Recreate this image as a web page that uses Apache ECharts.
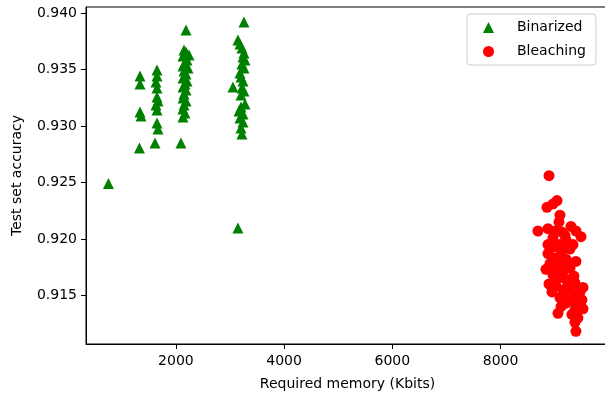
<!DOCTYPE html>
<html>
<head>
<meta charset="utf-8">
<script src="https://cdn.jsdelivr.net/npm/echarts@6/dist/echarts.min.js"></script>
<style>
  html, body { margin: 0; padding: 0; background: #fff; }
  #chart { width: 605px; height: 397px; }
</style>
</head>
<body>
<div id="chart"></div>
<script>
// x ticks / y ticks
var xTicks = [2000, 4000, 6000, 8000];
var yTicks = [0.915, 0.920, 0.925, 0.930, 0.935, 0.940];

// Binarized: [memory Kbits, accuracy]
var binarized = [
  [754, 0.9249],
  [1337, 0.93444], [1337, 0.93373], [1337, 0.93125], [1356, 0.93090], [1327, 0.92806],
  [1651, 0.93497], [1651, 0.93444], [1633, 0.93391], [1651, 0.93338], [1651, 0.93258],
  [1670, 0.93223], [1633, 0.93187], [1651, 0.93143], [1651, 0.93028], [1670, 0.92974],
  [1614, 0.92850],
  [2187, 0.93852], [2150, 0.93675], [2187, 0.93657], [2131, 0.93621], [2205, 0.93586],
  [2168, 0.93559], [2131, 0.93533], [2224, 0.93515], [2150, 0.93489], [2187, 0.93462],
  [2131, 0.93426], [2205, 0.93400], [2168, 0.93373], [2131, 0.93347], [2187, 0.93320],
  [2150, 0.93285], [2131, 0.93249], [2187, 0.93223], [2150, 0.93187], [2131, 0.93152],
  [2168, 0.93116], [2131, 0.93081], [2094, 0.92850], [2242, 0.93630],
  [3258, 0.93923], [3147, 0.93763], [3184, 0.93728], [3221, 0.93692], [3258, 0.93648],
  [3240, 0.93613], [3277, 0.93586], [3221, 0.93551], [3258, 0.93515], [3184, 0.93471],
  [3203, 0.93435], [3240, 0.93400], [3055, 0.93347], [3221, 0.93338], [3258, 0.93311],
  [3203, 0.93276], [3277, 0.93196], [3203, 0.93169], [3166, 0.93134], [3240, 0.93107],
  [3184, 0.93072], [3240, 0.93037], [3203, 0.92983], [3221, 0.92930], [3147, 0.92097]
];

// Bleaching: [memory Kbits, accuracy]
var bleaching = [
  [8895, 0.9256], [9043, 0.9234], [8969, 0.9231], [8858, 0.9228], [9098, 0.9221],
  [9080, 0.9215], [8691, 0.9207], [8876, 0.9209], [9301, 0.9211], [9393, 0.9207],
  [9486, 0.9202], [9135, 0.9206], [8969, 0.9201], [9209, 0.9199], [9338, 0.9195],
  [8876, 0.9195], [9043, 0.9193], [9283, 0.9191], [8876, 0.9187], [9117, 0.9187],
  [8987, 0.9183], [9209, 0.9182], [9393, 0.9180], [8913, 0.9178], [9080, 0.9176],
  [9283, 0.9174], [8839, 0.9173], [9154, 0.9171], [8969, 0.9168], [9356, 0.9167],
  [9061, 0.9165], [9227, 0.9163], [8895, 0.9160], [9024, 0.9158], [9301, 0.9158],
  [9523, 0.9157], [9154, 0.9155], [8950, 0.9153], [9246, 0.9151], [9393, 0.9150],
  [9098, 0.9148], [9504, 0.9146], [9301, 0.9145], [9209, 0.9143], [9430, 0.9141],
  [9117, 0.9140], [9523, 0.9138], [9375, 0.9137], [9061, 0.9134], [9319, 0.9133],
  [9430, 0.9130], [9375, 0.9126], [9393, 0.9118],
  [9024, 0.9180], [9135, 0.9167], [9246, 0.9179], [8987, 0.9174], [9190, 0.9152],
  [9283, 0.9164], [9098, 0.9195], [9190, 0.9203], [9006, 0.9207], [9375, 0.9161],
  [9467, 0.9153], [9338, 0.9148], [9172, 0.9194], [8932, 0.9192]
];

var font = 'DejaVu Sans';
var chart = echarts.init(document.getElementById('chart'), null, { renderer: 'canvas' });

var option = {
  animation: false,
  backgroundColor: '#fff',
  textStyle: { fontFamily: font },
  grid: {
    left: 86, top: 7, width: 523, height: 337,
    outerBoundsMode: 'none',
    containLabel: false,
    show: true, borderColor: '#000', borderWidth: 1
  },
  legend: {
    orient: 'vertical',
    left: 467, top: 14,
    padding: [5, 10, 5, 16],
    itemGap: 7,
    itemWidth: 11, itemHeight: 11,
    borderColor: '#cccccc', borderWidth: 1, borderRadius: 3,
    backgroundColor: '#fff',
    textStyle: { fontFamily: font, fontSize: 14, color: '#000', padding: [0, 0, 0, 18], lineHeight: 17 },
    data: ['Binarized', 'Bleaching']
  },
  xAxis: {
    type: 'value',
    min: 339, max: 10004,
    name: 'Required memory (Kbits)',
    nameLocation: 'middle',
    nameGap: 33,
    nameTextStyle: { fontFamily: font, fontSize: 14, color: '#000' },
    splitLine: { show: false },
    axisLine: { lineStyle: { color: '#000', width: 1 } },
    axisTick: { show: true, length: 5, lineStyle: { color: '#000' }, customValues: xTicks },
    axisLabel: {
      fontFamily: font, fontSize: 14, color: '#000', margin: 10, customValues: xTicks,
      formatter: function (v) { return String(v); }
    }
  },
  yAxis: {
    type: 'value',
    min: 0.91068, max: 0.94056,
    name: 'Test set accuracy',
    nameLocation: 'middle',
    nameGap: 62,
    nameTextStyle: { fontFamily: font, fontSize: 14, color: '#000' },
    splitLine: { show: false },
    axisLine: { lineStyle: { color: '#000', width: 1 } },
    axisTick: { show: true, length: 5, lineStyle: { color: '#000' }, customValues: yTicks },
    axisLabel: {
      fontFamily: font, fontSize: 14, color: '#000', margin: 9, customValues: yTicks,
      formatter: function (v) { return v.toFixed(3); }
    }
  },
  series: [
    {
      name: 'Binarized',
      type: 'scatter',
      symbol: 'triangle',
      symbolSize: 11,
      itemStyle: { color: '#008000', opacity: 1 },
      data: binarized
    },
    {
      name: 'Bleaching',
      type: 'scatter',
      symbol: 'circle',
      symbolSize: 11,
      itemStyle: { color: '#ff0000', opacity: 1 },
      data: bleaching
    }
  ]
};
chart.setOption(option);
</script>
</body>
</html>
